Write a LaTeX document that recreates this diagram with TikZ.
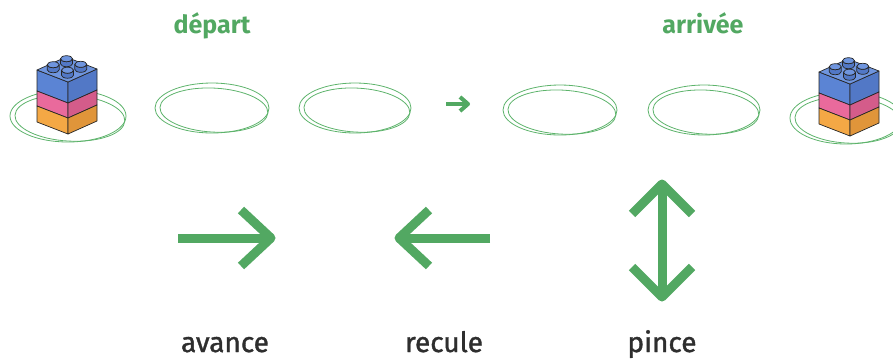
\documentclass[tikz,border=0pt]{standalone}
\usepackage{fontspec}
\setmainfont{Fira Sans}
\newfontfamily\legendefont[FakeBold=1.3]{Fira Sans}
\usetikzlibrary{calc}

\definecolor{vert}{HTML}{52A862}
\definecolor{vertclair}{HTML}{5DB36B}
\definecolor{gris}{HTML}{2E2E2E}
\definecolor{bleuH}{HTML}{6F95DE}
\definecolor{bleuG}{HTML}{5B84D4}
\definecolor{bleuD}{HTML}{5278C6}
\definecolor{roseG}{HTML}{E96A9C}
\definecolor{roseD}{HTML}{D45C8A}
\definecolor{orangeG}{HTML}{F4A845}
\definecolor{orangeD}{HTML}{E0953A}

\tikzset{
	titre/.style={text=vert, font=\fontsize{25}{29}\selectfont\bfseries, anchor=base},
	legende/.style={text=gris, font=\fontsize{28}{31}\legendefont, anchor=base},
	fleche/.style={draw=vert, line width=9pt, line join=round},
	petitefleche/.style={draw=vert, line width=4pt, line join=round},
	assiette/.style={draw=vertclair, line width=0.8pt},
}

% un tenon sur le dessus de la brique
\newcommand{\tenon}[1]{%
	\filldraw[fill=bleuD] ($#1+(-6,0)$) arc[start angle=180, end angle=0, x radius=6, y radius=3]
		-- ++(0,-5) arc[start angle=0, end angle=180, x radius=6, y radius=3] -- cycle;
	\filldraw[fill=bleuH] ($#1+(0,-5)$) ellipse[x radius=6, y radius=3];
}

% brique de trois couches, #1 = coin avant du dessus
\newcommand{\brique}[1]{%
	\begin{scope}[shift={#1}, draw=black!85, line width=0.7pt, line join=round]
		% face gauche
		\filldraw[fill=bleuG] (0,0) -- (-31,-12) -- (-31,9) -- (0,21) -- cycle;
		\filldraw[fill=roseG] (0,21) -- (-31,9) -- (-31,24) -- (0,36) -- cycle;
		\filldraw[fill=orangeG] (0,36) -- (-31,24) -- (-31,40) -- (0,52) -- cycle;
		% face droite
		\filldraw[fill=bleuD] (0,0) -- (29,-13) -- (29,8) -- (0,21) -- cycle;
		\filldraw[fill=roseD] (0,21) -- (29,8) -- (29,23) -- (0,36) -- cycle;
		\filldraw[fill=orangeD] (0,36) -- (29,23) -- (29,39) -- (0,52) -- cycle;
		% dessus
		\filldraw[fill=bleuH] (0,0) -- (-31,-12) -- (-2,-25) -- (29,-13) -- cycle;
		\tenon{(-1.5,-18.3)}
		\tenon{(-14.8,-12.3)}
		\tenon{(12.8,-12.7)}
		\tenon{(-0.5,-6.8)}
	\end{scope}
}

\begin{document}
\begin{tikzpicture}[x=1pt, y=-1pt]
	\useasboundingbox (0,0) rectangle (893,360);

	% assiettes
	\foreach \x/\y/\rx/\ry in {68/116/58/26, 212/108/57/25, 355/108/56/25,
		560/110/57/25, 704/110/56/25, 846/118/56/26}{
		\draw[assiette] (\x,\y) ellipse[x radius=\rx, y radius=\ry];
		\draw[assiette, rotate around={-3:(\x,\y)}] (\x+2,\y+2) ellipse[x radius=\rx-3, y radius=\ry-3];
	}

	% briques
	\brique{(68,82)}
	\brique{(850,84)}

	\node[titre] (depart) at (212,33) {départ};
	\node[titre] (arrivee) at (703,33) {arrivée};

	% petite fleche entre les assiettes
	\coordinate (sens-debut) at (446,104);
	\coordinate (sens-fin) at (468,104);
	\draw[petitefleche] (sens-debut) -- (sens-fin);
	\draw[petitefleche] ($(sens-fin)+(-8,-7)$) -- (sens-fin) -- ($(sens-fin)+(-8,7)$);

	% avance
	\coordinate (avance-debut) at (178,238);
	\coordinate (avance-fin) at (271,238);
	\draw[fleche] (avance-debut) -- (avance-fin);
	\draw[fleche] ($(avance-fin)+(-30,-28)$) -- (avance-fin) -- ($(avance-fin)+(-30,28)$);

	% recule
	\coordinate (recule-debut) at (490,238);
	\coordinate (recule-fin) at (399,238);
	\draw[fleche] (recule-debut) -- (recule-fin);
	\draw[fleche] ($(recule-fin)+(30,-28)$) -- (recule-fin) -- ($(recule-fin)+(30,28)$);

	% pince
	\coordinate (pince-haut) at (662,184);
	\coordinate (pince-bas) at (662,297);
	\draw[fleche] (pince-haut) -- (pince-bas);
	\draw[fleche] ($(pince-haut)+(-30,30)$) -- (pince-haut) -- ($(pince-haut)+(30,30)$);
	\draw[fleche] ($(pince-bas)+(-30,-30)$) -- (pince-bas) -- ($(pince-bas)+(30,-30)$);

	\node[legende] (avance) at (225,352) {avance};
	\node[legende] (recule) at (444,352) {recule};
	\node[legende] (pince) at (662,352) {pince};
\end{tikzpicture}
\end{document}
